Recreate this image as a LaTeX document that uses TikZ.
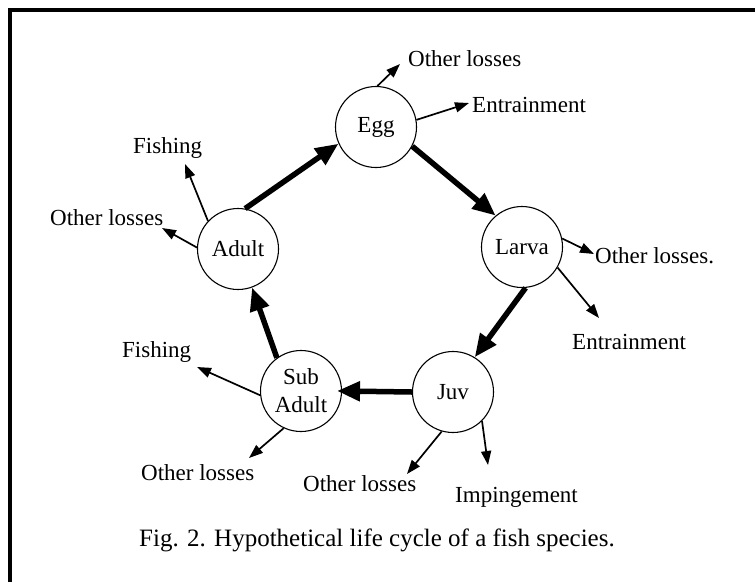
\documentclass[tikz,border=0pt]{standalone}
\usepackage{fontspec}
\setmainfont{Liberation Serif}
\usetikzlibrary{arrows.meta}
\begin{document}
\begin{tikzpicture}[x=1pt,y=-1pt,
  stage/.style={draw,circle,line width=1.1pt,minimum size=81pt,inner sep=0pt,
    align=center,font=\fontsize{23}{28}\selectfont},
  lbl/.style={anchor=base west,inner sep=0pt,font=\fontsize{23}{27}\selectfont},
  thinarrow/.style={line width=1.7pt,-{Triangle[length=14pt,width=10pt]}},
  thickarrow/.style={line width=5.5pt,-{Triangle[length=23pt,width=19pt]}}]
\useasboundingbox (0,0) rectangle (755,582);
% frame
\draw[line width=4pt] (755,9.5) -- (9.5,9.5) -- (9.5,582);
% stages
\node[stage] (egg) at (376,127) {Egg};
\node[stage] (larva) at (522,247) {Larva};
\node[stage] (juv) at (453,392) {Juv};
\node[stage] (sub) at (301,391) {Sub\\Adult};
\node[stage] (adult) at (238,249) {Adult};
% labels
\node[lbl] (olegg) at (408,66) {Other losses};
\node[lbl] (enegg) at (472,112) {Entrainment};
\node[lbl] (ollarva) at (595,263) {Other losses.};
\node[lbl] (enlarva) at (572,349) {Entrainment};
\node[lbl] (oljuv) at (303,491) {Other losses};
\node[lbl] (imjuv) at (455,502) {Impingement};
\node[lbl] (olsub) at (141,480) {Other losses};
\node[lbl] (fisub) at (122,357) {Fishing};
\node[lbl] (fiadult) at (133,153) {Fishing};
\node[lbl] (oladult) at (50,225) {Other losses};
\node[anchor=base,inner sep=0pt,font=\fontsize{25}{29}\selectfont] (caption) at (377,546)
  {Fig. 2. Hypothetical life cycle of a fish species.};
% tip coordinates
\coordinate (tEggOl) at (400,64);
\coordinate (tEggEn) at (469,103);
\coordinate (tLarOl) at (594,254);
\coordinate (tLarEn) at (599,318);
\coordinate (tJuvOl) at (407,474);
\coordinate (tJuvIm) at (488,465);
\coordinate (tSubFi) at (197,367);
\coordinate (tSubOl) at (249,458);
\coordinate (tAdFi) at (185,164);
\coordinate (tAdOl) at (162,228);
% cycle
\draw[thickarrow] (adult.80) -- (egg.204);
\draw[thickarrow] (egg.-28) -- (larva.130);
\draw[thickarrow] (larva.-85) -- (juv.58);
\draw[thickarrow,shorten >=-5pt] (juv.180) -- (sub.0);
\draw[thickarrow] (sub.126) -- (adult.-70);
% losses
\draw[thinarrow] (egg.88) -- (tEggOl);
\draw[thinarrow] (egg.10) -- (tEggEn);
\draw[thinarrow] (larva.12) -- (tLarOl);
\draw[thinarrow] (larva.-30) -- (tLarEn);
\draw[thinarrow] (juv.-106) -- (tJuvOl);
\draw[thinarrow] (juv.-45) -- (tJuvIm);
\draw[thinarrow] (sub.186) -- (tSubFi);
\draw[thinarrow] (sub.-115) -- (tSubOl);
\draw[thinarrow] (adult.137) -- (tAdFi);
\draw[thinarrow] (adult.178) -- (tAdOl);
\end{tikzpicture}
\end{document}
